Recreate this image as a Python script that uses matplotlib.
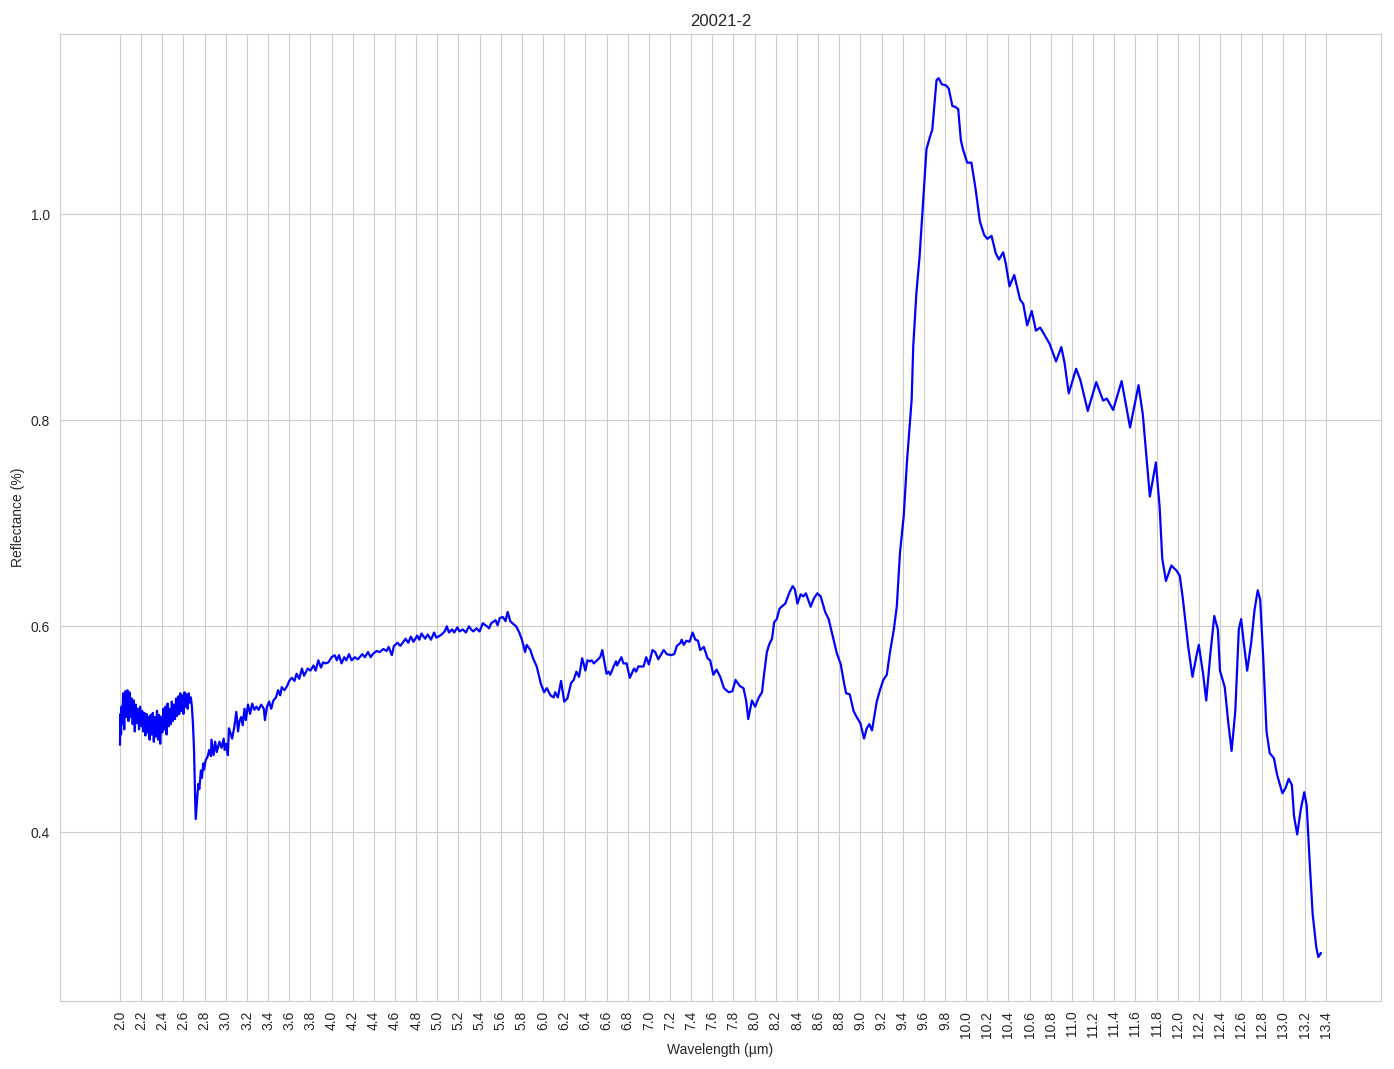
import numpy as np
import matplotlib
matplotlib.use("Agg")
import matplotlib.pyplot as plt
import seaborn as sns

# Spectrum values (wavelength in um, reflectance)
wl_swir = [2.000, 2.005, 2.010, 2.015, 2.020, 2.030, 2.040, 2.050, 2.060, 2.070,
           2.080, 2.090, 2.100, 2.110, 2.120, 2.130, 2.140, 2.150, 2.160, 2.170,
           2.180, 2.190, 2.200, 2.210, 2.220, 2.230, 2.240, 2.250, 2.260, 2.270,
           2.280, 2.290, 2.300, 2.310, 2.320, 2.330, 2.340, 2.350, 2.360, 2.370,
           2.380, 2.390, 2.400, 2.410, 2.420, 2.430, 2.440, 2.450, 2.460, 2.470,
           2.480, 2.490, 2.500, 2.510, 2.520, 2.530, 2.540, 2.550, 2.560, 2.570,
           2.580, 2.590, 2.600, 2.610, 2.620, 2.630, 2.640, 2.650, 2.660, 2.670,
           2.680, 2.690, 2.700, 2.710, 2.716]
refl_swir = [0.485, 0.515, 0.495, 0.522, 0.505, 0.535, 0.500, 0.537, 0.512, 0.538,
             0.508, 0.536, 0.512, 0.530, 0.505, 0.528, 0.498, 0.524, 0.506, 0.520,
             0.500, 0.522, 0.503, 0.518, 0.498, 0.516, 0.494, 0.515, 0.497, 0.512,
             0.490, 0.514, 0.495, 0.516, 0.488, 0.512, 0.493, 0.518, 0.490, 0.514,
             0.486, 0.512, 0.497, 0.520, 0.500, 0.522, 0.495, 0.525, 0.503, 0.520,
             0.505, 0.527, 0.508, 0.524, 0.510, 0.530, 0.513, 0.532, 0.515, 0.535,
             0.518, 0.533, 0.515, 0.536, 0.522, 0.534, 0.520, 0.535, 0.526, 0.531,
             0.522, 0.505, 0.480, 0.435, 0.413]

wl_mir = [2.727, 2.740, 2.750, 2.765, 2.775, 2.787, 2.795, 2.810, 2.830, 2.843,
          2.860, 2.865, 2.885, 2.900, 2.915, 2.940, 2.960, 2.980, 2.990, 3.005,
          3.020, 3.030, 3.046, 3.060, 3.080, 3.100, 3.116, 3.130, 3.146, 3.160,
          3.177, 3.190, 3.210, 3.230, 3.250, 3.270, 3.290, 3.310, 3.335, 3.360,
          3.370, 3.390, 3.410, 3.430, 3.450, 3.475, 3.495, 3.515, 3.530, 3.555,
          3.580, 3.600, 3.625, 3.650, 3.670, 3.695, 3.720, 3.740, 3.775, 3.800,
          3.830, 3.850, 3.875, 3.900, 3.920, 3.945, 3.970, 4.000, 4.030, 4.050,
          4.070, 4.095, 4.120, 4.140, 4.165, 4.190, 4.220, 4.250, 4.290, 4.315,
          4.345, 4.370, 4.390, 4.425, 4.455, 4.490, 4.520, 4.540, 4.570, 4.590,
          4.625, 4.650, 4.680, 4.700, 4.725, 4.750, 4.775, 4.810, 4.830, 4.850,
          4.885, 4.910, 4.940, 4.970, 4.990, 5.010, 5.040, 5.070, 5.090, 5.110,
          5.140, 5.160, 5.190, 5.210, 5.240, 5.270, 5.300, 5.320, 5.340, 5.370,
          5.400, 5.430, 5.470, 5.490, 5.510, 5.550, 5.570, 5.590, 5.620, 5.645,
          5.665, 5.690, 5.710, 5.745, 5.775]
refl_mir = [0.428, 0.447, 0.442, 0.460, 0.453, 0.467, 0.461, 0.470, 0.474, 0.480,
            0.474, 0.490, 0.475, 0.488, 0.478, 0.488, 0.482, 0.491, 0.480, 0.486,
            0.475, 0.501, 0.496, 0.491, 0.502, 0.517, 0.498, 0.508, 0.512, 0.504,
            0.520, 0.509, 0.524, 0.515, 0.525, 0.519, 0.522, 0.519, 0.524, 0.520,
            0.509, 0.522, 0.527, 0.520, 0.528, 0.531, 0.538, 0.533, 0.541, 0.538,
            0.542, 0.547, 0.550, 0.547, 0.554, 0.549, 0.559, 0.552, 0.559, 0.557,
            0.562, 0.557, 0.567, 0.560, 0.565, 0.564, 0.565, 0.570, 0.572, 0.567,
            0.572, 0.564, 0.570, 0.567, 0.573, 0.567, 0.570, 0.568, 0.573, 0.570,
            0.575, 0.570, 0.573, 0.576, 0.575, 0.578, 0.576, 0.580, 0.572, 0.581,
            0.584, 0.581, 0.585, 0.588, 0.584, 0.590, 0.585, 0.591, 0.587, 0.593,
            0.588, 0.592, 0.587, 0.594, 0.589, 0.590, 0.592, 0.595, 0.600, 0.594,
            0.597, 0.594, 0.599, 0.595, 0.597, 0.594, 0.600, 0.597, 0.595, 0.598,
            0.595, 0.603, 0.600, 0.598, 0.603, 0.606, 0.601, 0.608, 0.609, 0.605,
            0.614, 0.605, 0.603, 0.600, 0.594]

wl_tir = [5.800, 5.830, 5.845, 5.880, 5.905, 5.940, 5.980, 6.010, 6.035, 6.070,
          6.100, 6.115, 6.140, 6.170, 6.200, 6.230, 6.265, 6.290, 6.315, 6.340,
          6.370, 6.400, 6.420, 6.445, 6.460, 6.480, 6.510, 6.540, 6.560, 6.600,
          6.620, 6.635, 6.667, 6.690, 6.700, 6.740, 6.760, 6.790, 6.820, 6.860,
          6.880, 6.900, 6.950, 6.975, 7.000, 7.035, 7.060, 7.090, 7.140, 7.170,
          7.210, 7.240, 7.265, 7.300, 7.310, 7.330, 7.355, 7.385, 7.414, 7.440,
          7.465, 7.486, 7.520, 7.555, 7.580, 7.610, 7.640, 7.675, 7.710, 7.755,
          7.790, 7.820, 7.860, 7.895, 7.920, 7.940, 7.975, 8.005, 8.040, 8.070,
          8.090, 8.116, 8.140, 8.165, 8.185, 8.210, 8.235, 8.255, 8.290, 8.330,
          8.360, 8.380, 8.405, 8.435, 8.460, 8.485, 8.530, 8.560, 8.593, 8.625,
          8.667, 8.700, 8.740, 8.777, 8.815, 8.840, 8.865, 8.900, 8.935, 8.965,
          9.000, 9.035, 9.060, 9.085, 9.110, 9.155, 9.185, 9.217, 9.250, 9.280,
          9.317, 9.345, 9.375, 9.410, 9.440, 9.485, 9.500, 9.530, 9.560, 9.600,
          9.625, 9.655, 9.680, 9.700, 9.720, 9.740, 9.770, 9.810, 9.835, 9.870,
          9.900, 9.925, 9.950, 9.970, 10.010, 10.050, 10.090, 10.130, 10.170, 10.200,
          10.240, 10.280, 10.310, 10.350, 10.375, 10.410, 10.455, 10.480, 10.510, 10.540,
          10.577, 10.620, 10.660, 10.700, 10.740, 10.790, 10.850, 10.900, 10.930, 10.970,
          11.040, 11.080, 11.150, 11.230, 11.295, 11.330, 11.390, 11.470, 11.550, 11.630,
          11.670, 11.737, 11.794, 11.830, 11.854, 11.889, 11.940, 11.990, 12.020, 12.050,
          12.100, 12.140, 12.175, 12.200, 12.240, 12.270, 12.310, 12.346, 12.380, 12.400,
          12.445, 12.480, 12.510, 12.545, 12.578, 12.600, 12.625, 12.657, 12.695, 12.727,
          12.757, 12.780, 12.810, 12.840, 12.870, 12.910, 12.940, 12.990, 13.020, 13.050,
          13.080, 13.100, 13.130, 13.165, 13.197, 13.220, 13.245, 13.276, 13.310, 13.330,
          13.355]
refl_tir = [0.587, 0.575, 0.582, 0.577, 0.569, 0.561, 0.544, 0.536, 0.540, 0.533,
            0.531, 0.536, 0.531, 0.547, 0.527, 0.530, 0.545, 0.548, 0.556, 0.551,
            0.569, 0.557, 0.567, 0.566, 0.567, 0.564, 0.567, 0.570, 0.577, 0.554,
            0.556, 0.553, 0.561, 0.566, 0.562, 0.570, 0.564, 0.564, 0.550, 0.559,
            0.556, 0.561, 0.561, 0.570, 0.563, 0.577, 0.575, 0.568, 0.577, 0.573,
            0.572, 0.573, 0.581, 0.584, 0.587, 0.582, 0.586, 0.585, 0.594, 0.587,
            0.586, 0.577, 0.580, 0.569, 0.567, 0.553, 0.558, 0.551, 0.540, 0.536,
            0.537, 0.548, 0.542, 0.540, 0.528, 0.510, 0.528, 0.522, 0.531, 0.536,
            0.554, 0.575, 0.583, 0.588, 0.604, 0.607, 0.617, 0.619, 0.622, 0.633,
            0.639, 0.636, 0.622, 0.631, 0.629, 0.632, 0.619, 0.627, 0.632, 0.629,
            0.614, 0.607, 0.590, 0.574, 0.563, 0.548, 0.535, 0.534, 0.518, 0.512,
            0.506, 0.491, 0.501, 0.505, 0.499, 0.527, 0.538, 0.548, 0.553, 0.575,
            0.597, 0.620, 0.672, 0.707, 0.759, 0.820, 0.872, 0.924, 0.959, 1.024,
            1.063, 1.074, 1.082, 1.106, 1.130, 1.132, 1.126, 1.125, 1.122, 1.105,
            1.104, 1.102, 1.072, 1.063, 1.050, 1.050, 1.024, 0.993, 0.980, 0.976,
            0.979, 0.962, 0.956, 0.963, 0.952, 0.930, 0.941, 0.930, 0.917, 0.913,
            0.892, 0.906, 0.887, 0.890, 0.883, 0.874, 0.857, 0.871, 0.856, 0.826,
            0.850, 0.839, 0.809, 0.837, 0.819, 0.821, 0.810, 0.838, 0.793, 0.834,
            0.806, 0.726, 0.759, 0.715, 0.666, 0.644, 0.659, 0.654, 0.649, 0.626,
            0.580, 0.551, 0.570, 0.582, 0.554, 0.528, 0.574, 0.610, 0.597, 0.557,
            0.541, 0.505, 0.479, 0.518, 0.597, 0.607, 0.584, 0.557, 0.584, 0.616,
            0.635, 0.626, 0.567, 0.498, 0.477, 0.472, 0.456, 0.438, 0.443, 0.452,
            0.446, 0.416, 0.398, 0.423, 0.439, 0.426, 0.377, 0.321, 0.289, 0.279,
            0.283]

sample_name = "20021-2"
xtick_values = np.round(np.arange(2.0, 13.41, 0.2), 1)

wavelength = np.concatenate([wl_swir, wl_mir, wl_tir])
reflectance = np.concatenate([refl_swir, refl_mir, refl_tir])

sns.set_style("whitegrid")
plt.rcParams["font.family"] = ["Liberation Sans", "DejaVu Sans"]

fig, ax = plt.subplots(figsize=(13.94, 10.69), dpi=100)
fig.subplots_adjust(left=0.043, right=0.9907, top=0.968, bottom=0.0636)

ax.plot(wavelength, reflectance, color="blue", linewidth=1.6)

ax.set_xticks(xtick_values)
ax.set_xticklabels([f"{v:.1f}" for v in xtick_values], rotation=90)
ax.set_title(sample_name)
ax.set_xlabel("Wavelength (µm)")
ax.set_ylabel("Reflectance (%)")

fig.savefig("out.png", dpi=100)
